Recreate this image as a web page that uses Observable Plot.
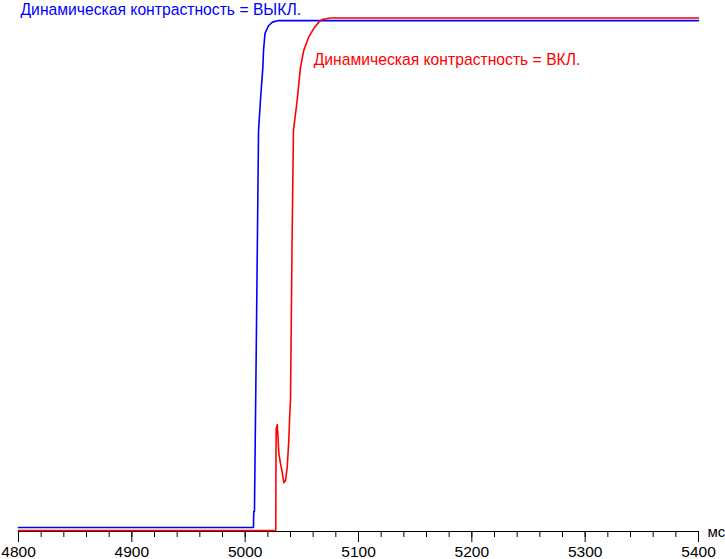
<!DOCTYPE html>
<html>
<head>
<meta charset="utf-8">
<script src="https://cdn.jsdelivr.net/npm/d3@7"></script>
<script src="https://cdn.jsdelivr.net/npm/@observablehq/plot@0.6"></script>
<style>
  html, body { margin: 0; padding: 0; background: #fff; }
</style>
</head>
<body>
<div id="chart"></div>
<script>
// Time axis (ms)
const majorTicks = [4800, 4900, 5000, 5100, 5200, 5300, 5400];
const minorTicks = d3.range(4800, 5401, 20);
const unitLabel = "мс";

// Series: Dynamic contrast OFF (blue)
const offName = "Динамическая контрастность = ВЫКЛ.";
const offX = [4800, 5007.3, 5007.6, 5008.2, 5010.0, 5011.8, 5013.5, 5015.6, 5016.2, 5017.5, 5020.6, 5024.1, 5029.4, 5100, 5200, 5300, 5400];
const offY = [0.78, 0.78, 3.9, 3.9, 40, 78.0, 83.9, 90.3, 93.6, 96.9, 98.4, 99.1, 99.4, 99.4, 99.4, 99.4, 99.4];

// Series: Dynamic contrast ON (red)
const onName = "Динамическая контрастность = ВКЛ.";
const onX = [4800, 5027.0, 5027.2, 5027.4, 5028.3, 5028.8, 5029.7, 5031.2, 5032.7, 5034.1, 5035.6, 5037.1, 5038.5, 5039.4, 5040.0, 5041.3, 5042.6, 5045.9, 5048.8, 5051.7, 5056.1, 5060.6, 5065.0, 5068.0, 5075.3, 5200, 5300, 5400];
const onY = [0.19, 0.19, 15, 20.0, 20.8, 19.1, 15.2, 13.2, 11.5, 9.5, 9.9, 12.5, 17.7, 23.0, 25.5, 54.7, 78.0, 83.9, 90.3, 93.6, 96.2, 97.9, 99.1, 99.6, 99.9, 99.9, 99.9, 99.9];

const off = offX.map((x, i) => ({x, y: offY[i]}));
const on = onX.map((x, i) => ({x, y: onY[i]}));

const font = "'Liberation Sans', Arial, sans-serif";

const chart = Plot.plot({
  width: 725,
  height: 559,
  marginLeft: 18,
  marginRight: 27,
  marginTop: 17,
  marginBottom: 28,
  style: {fontFamily: font, fontSize: "15.5px", color: "#000", background: "#fff"},
  x: {domain: [4800, 5400], label: null},
  y: {domain: [0, 100], axis: null, label: null},
  marks: [
    Plot.ruleY([0], {stroke: "#000", strokeWidth: 1}),
    Plot.axisX(minorTicks, {tickSize: 6, tickFormat: () => "", label: null, stroke: "#000"}),
    Plot.axisX(majorTicks, {tickSize: 11, tickPadding: 3, tickFormat: d => String(d), label: null, stroke: "#000", fill: "#000", fontSize: 15.5}),
    Plot.text([unitLabel], {x: 5400, y: 0, dx: 9, dy: 1, text: d => d, textAnchor: "start", fontSize: 15, fill: "#000"}),
    Plot.line(off, {x: "x", y: "y", stroke: "#0000ff", strokeWidth: 1.6, curve: "linear"}),
    Plot.line(on, {x: "x", y: "y", stroke: "#ff0000", strokeWidth: 1.6, curve: "linear"}),
    Plot.text([offName], {x: 4800, y: 100, dx: 2, dy: -3, text: d => d, textAnchor: "start", lineAnchor: "bottom", fill: "#0000ff", fontSize: 15.7}),
    Plot.text([onName], {x: 5060.5, y: 90.7, text: d => d, textAnchor: "start", lineAnchor: "bottom", fill: "#ff0000", fontSize: 15.7})
  ]
});
document.getElementById("chart").appendChild(chart);
</script>
</body>
</html>
